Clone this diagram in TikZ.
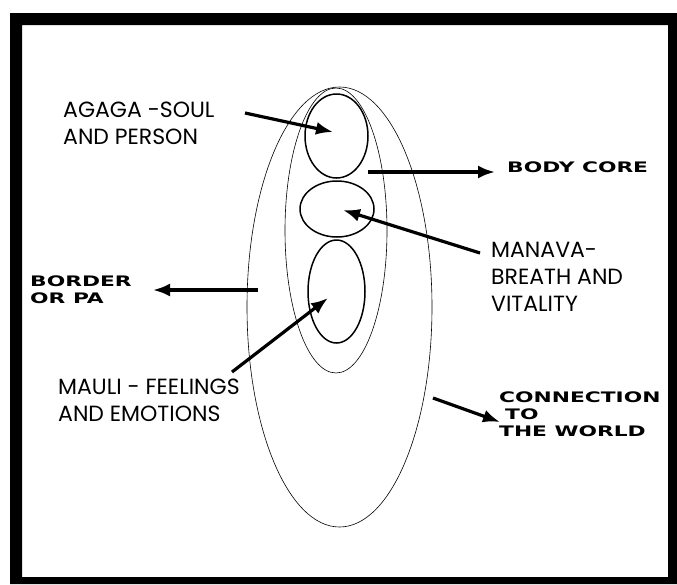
\documentclass[tikz,border=0pt]{standalone}
\usepackage{fontspec}
\setmainfont{Poppins}
\newfontfamily\widefont{DejaVu Sans}[FakeStretch=1.5]
\usetikzlibrary{arrows.meta,shapes.geometric}
\begin{document}
\begin{tikzpicture}[x=1pt,y=-1pt,
  oval/.style={draw,ellipse,inner sep=0pt},
  thinoval/.style={oval,line width=0.6pt},
  thickoval/.style={oval,line width=1.5pt},
  arr/.style={line width=3.2pt,-{Latex[length=17pt,width=13pt]}},
  biglabel/.style={inner sep=0pt,anchor=north west,align=left,font=\fontsize{22}{27}\selectfont},
  widelabel/.style={inner sep=0pt,anchor=north west,align=left,font=\widefont\bfseries\fontsize{14.5}{17}\selectfont}]
\useasboundingbox (0,0) rectangle (677,584);
\fill[white] (0,0) rectangle (677,584);
% frame
\fill[black,even odd rule] (10,13) rectangle (677,584) (22,25) rectangle (668,577);
% ovals
\node[thinoval,minimum width=185pt,minimum height=440pt] (outer) at (339.5,307) {};
\node[thinoval,minimum width=102pt,minimum height=285pt] (core) at (336,230.5) {};
\node[thickoval,minimum width=63pt,minimum height=84pt] (soul) at (336.5,136) {};
\node[thickoval,minimum width=74pt,minimum height=56pt] (manava) at (337,209) {};
\node[thickoval,minimum width=57pt,minimum height=103pt] (mauli) at (336.5,291.5) {};
% labels
\node[biglabel] (agaga) at (63,102) {AGAGA -SOUL\\AND PERSON};
\node[biglabel] (manavat) at (491,242) {MANAVA-\\BREATH AND\\VITALITY};
\node[biglabel] (maulit) at (58,379) {MAULI - FEELINGS\\AND EMOTIONS};
\node[widelabel] (bodycore) at (507,162) {BODY CORE};
\node[widelabel] (border) at (30,276) {BORDER\\OR PA};
\node[widelabel] (world) at (499,392) {CONNECTION\\\hspace*{6pt}TO\\THE WORLD};
% connector ends
\coordinate (agagaT) at (245,113);
\coordinate (soulP) at (333,132);
\coordinate (coreT) at (368,172);
\coordinate (coreP) at (495,172);
\coordinate (manavaT) at (480,253);
\coordinate (manavaP) at (343,210);
\coordinate (borderT) at (258,290);
\coordinate (borderP) at (153,290);
\coordinate (mauliT) at (232,372);
\coordinate (mauliP) at (328,298);
\coordinate (worldT) at (433,398);
\coordinate (worldP) at (500,422);
% arrows
\draw[arr] (agagaT) -- (soulP);
\draw[arr] (coreT) -- (coreP);
\draw[arr] (manavaT) -- (manavaP);
\draw[arr] (borderT) -- (borderP);
\draw[arr] (mauliT) -- (mauliP);
\draw[arr] (worldT) -- (worldP);
\end{tikzpicture}
\end{document}
